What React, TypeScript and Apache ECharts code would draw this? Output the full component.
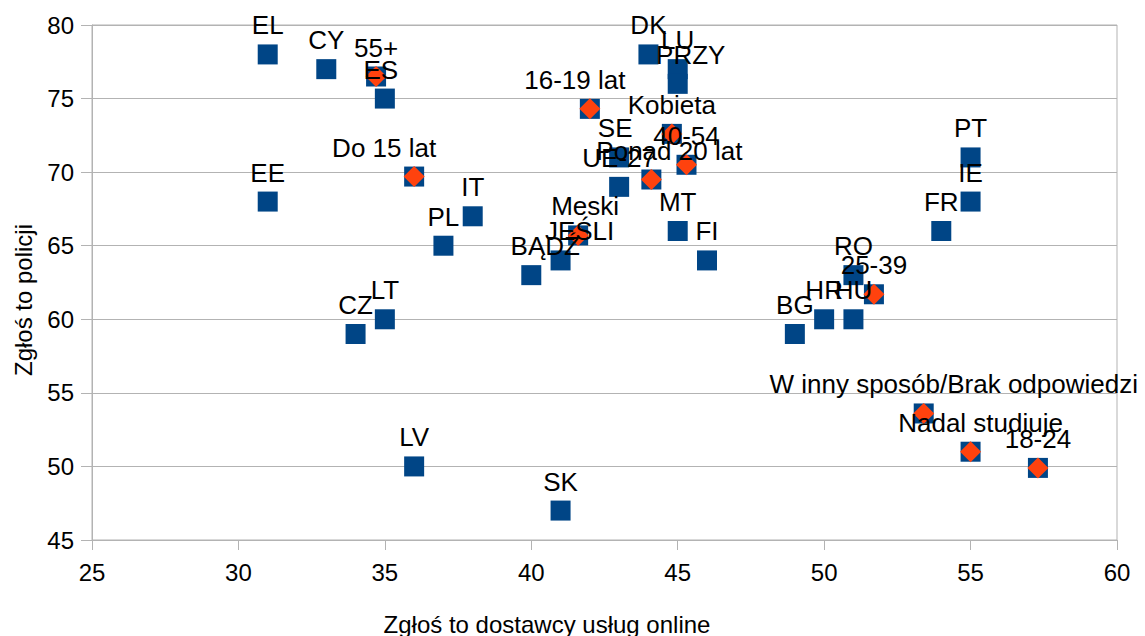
import React, { useEffect, useRef } from "react";
import * as echarts from "echarts";

// Countries (blue squares)
const countryNames = ["EL", "CY", "ES", "EE", "CZ", "LT", "LV", "PL", "IT", "SK", "BĄDŹ", "JEŚLI", "DK", "LU", "PRZY", "SE", "UE-27", "MT", "FI", "BG", "HR", "HU", "RO", "FR", "IE", "PT"];
const countryX = [31, 33, 35, 31, 34, 35, 36, 37, 38, 41, 40, 41, 44, 45, 45, 43, 43, 45, 46, 49, 50, 51, 51, 54, 55, 55];
const countryY = [78, 77, 75, 68, 59, 60, 50, 65, 67, 47, 63, 64, 78, 77, 76, 71, 69, 66, 64, 59, 60, 60, 63, 66, 68, 71];

// Socio-demographic groups (orange diamonds)
const groupNames = ["55+", "Do 15 lat", "16-19 lat", "Meski", "Kobieta", "40-54", "Ponad 20 lat", "25-39", "W inny sposób/Brak odpowiedzi", "Nadal studiuje", "18-24"];
const groupX = [34.7, 36, 42, 41.6, 44.8, 45.3, 44.1, 51.7, 53.4, 55, 57.3];
const groupY = [76.5, 69.7, 74.3, 65.7, 72.6, 70.5, 69.5, 61.7, 53.6, 51, 49.9];

const xTitle = "Zgłoś to dostawcy usług online";
const yTitle = "Zgłoś to policji";

// label horizontal nudges (style only)
const labelDx: Record<string, number> = {
  ES: -4,
  "Do 15 lat": -30,
  "16-19 lat": -15,
  "Ponad 20 lat": 18,
  "W inny sposób/Brak odpowiedzi": 30,
  "Nadal studiuje": 10,
  "BĄDŹ": 14,
  "JEŚLI": 19,
  Meski: 7,
  PRZY: 13,
  SE: -4,
};

const BLUE = "#004586";
const ORANGE = "#ff420e";
const GRID = "#b3b3b3";
const FONT = "Liberation Sans, Arial, sans-serif";

export default function App() {
  const ref = useRef<HTMLDivElement>(null);
  useEffect(() => {
    if (!ref.current) return;
    const chart = echarts.init(ref.current, undefined, { renderer: "svg" });
    const countryData = countryNames.map((n, i) => ({ name: n, value: [countryX[i], countryY[i]] }));
    const groupData = groupNames.map((n, i) => ({ name: n, value: [groupX[i], groupY[i]] }));
    const labelData = [...countryData, ...groupData].map((d) => ({
      ...d,
      label: { offset: [labelDx[d.name] || 0, 0] },
    }));
    chart.setOption({
      animation: false,
      grid: {
        left: 92,
        right: 28,
        top: 25,
        bottom: 96,
        show: true,
        borderColor: GRID,
        borderWidth: 1,
        backgroundColor: "transparent",
      },
      xAxis: {
        type: "value",
        min: 25,
        max: 60,
        interval: 5,
        splitLine: { show: false },
        axisLine: { show: true, lineStyle: { color: GRID } },
        axisTick: { show: true, length: 10, lineStyle: { color: GRID } },
        axisLabel: { fontSize: 24, color: "#000", fontFamily: FONT, margin: 20 },
      },
      yAxis: {
        type: "value",
        min: 45,
        max: 80,
        interval: 5,
        splitLine: { show: true, lineStyle: { color: GRID } },
        axisLine: { show: true, lineStyle: { color: GRID } },
        axisTick: { show: true, length: 11, lineStyle: { color: GRID } },
        axisLabel: { fontSize: 24, color: "#000", fontFamily: FONT, margin: 18 },
      },
      graphic: [
        {
          type: "text",
          x: 547,
          y: 624,
          style: { text: xTitle, fontSize: 24, fontFamily: FONT, fill: "#000", align: "center", verticalAlign: "middle" },
        },
        {
          type: "text",
          x: 23,
          y: 300,
          rotation: Math.PI / 2,
          style: { text: yTitle, fontSize: 24, fontFamily: FONT, fill: "#000", align: "center", verticalAlign: "middle" },
        },
      ],
      series: [
        {
          type: "scatter",
          symbol: "rect",
          symbolSize: 20,
          itemStyle: { color: BLUE, opacity: 1 },
          data: countryData,
          silent: true,
          z: 2,
        },
        {
          type: "scatter",
          symbol: "rect",
          symbolSize: 20,
          itemStyle: { color: BLUE, opacity: 1 },
          data: groupData,
          silent: true,
          z: 3,
        },
        {
          type: "scatter",
          symbol: "diamond",
          symbolSize: 21,
          itemStyle: { color: ORANGE, opacity: 1 },
          data: groupData,
          silent: true,
          z: 4,
        },
        {
          type: "scatter",
          symbol: "rect",
          symbolSize: 20,
          itemStyle: { color: "transparent" },
          data: labelData,
          silent: true,
          z: 10,
          label: {
            show: true,
            position: "top",
            distance: 6,
            formatter: "{b}",
            fontSize: 26,
            fontFamily: FONT,
            color: "#000",
            opacity: 1,
          },
        },
      ],
    });
    return () => chart.dispose();
  }, []);
  return <div ref={ref} style={{ position: "absolute", left: 0, top: 0, width: 1145, height: 636 }} />;
}
